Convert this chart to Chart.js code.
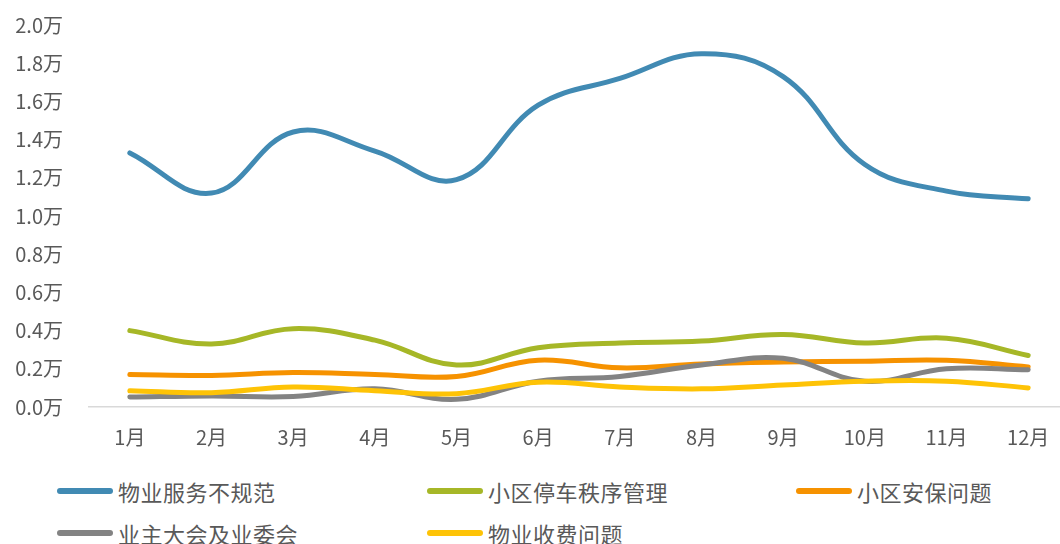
<!DOCTYPE html>
<html>
<head>
<meta charset="utf-8">
<script src="https://cdn.jsdelivr.net/npm/chart.js@4"></script>
<style>
  html, body { margin: 0; padding: 0; background: #fff; overflow: hidden; }
  body { width: 1060px; height: 544px; position: relative; }
  #wrap { position: absolute; left: 0; top: -13px; width: 1070px; height: 473px; }
  .legend { position: absolute; font-family: "Noto Sans CJK SC", sans-serif; font-size: 22px; color: #595959; }
  .item { position: absolute; display: flex; align-items: center; white-space: nowrap; letter-spacing: 0.5px; }
  .item span.sw { display: inline-block; width: 56px; height: 6px; border-radius: 3px; margin-right: 5px; }
</style>
</head>
<body>
<div id="wrap"><canvas id="lineChart"></canvas></div>
<div class="legend" id="legend"></div>
<script>
// 月份
const months = ['1月', '2月', '3月', '4月', '5月', '6月', '7月', '8月', '9月', '10月', '11月', '12月'];

// 各类投诉数量（万）
const wuyeFuwu   = [1.33, 1.12, 1.44, 1.34, 1.19, 1.58, 1.72, 1.85, 1.73, 1.27, 1.13, 1.09];
const tingche    = [0.40, 0.33, 0.41, 0.35, 0.22, 0.31, 0.335, 0.345, 0.38, 0.335, 0.36, 0.27];
const anbao      = [0.17, 0.165, 0.18, 0.17, 0.16, 0.245, 0.205, 0.225, 0.235, 0.24, 0.245, 0.21];
const yezhuDahui = [0.052, 0.058, 0.055, 0.095, 0.04, 0.135, 0.16, 0.22, 0.255, 0.135, 0.20, 0.195];
const shoufei    = [0.085, 0.075, 0.105, 0.085, 0.07, 0.13, 0.105, 0.095, 0.115, 0.135, 0.135, 0.10];

const yTicks = [0, 0.2, 0.4, 0.6, 0.8, 1.0, 1.2, 1.4, 1.6, 1.8, 2.0];

const seriesNames = ['物业服务不规范', '小区停车秩序管理', '小区安保问题', '业主大会及业委会', '物业收费问题'];
const seriesData = [wuyeFuwu, tingche, anbao, yezhuDahui, shoufei];
const colors = ['#418AB3', '#A6B727', '#F69200', '#838383', '#FEC306'];

const tickFont = { family: '"Noto Sans CJK SC", sans-serif', size: 20 };

const datasets = seriesNames.map((name, i) => ({
    label: name,
    data: seriesData[i],
    borderColor: colors[i],
    backgroundColor: colors[i],
    borderWidth: 5,
    borderCapStyle: 'round',
    borderJoinStyle: 'round',
    pointRadius: 0,
    tension: 0.4,
    fill: false,
    order: seriesNames.length - i
}));

new Chart(document.getElementById('lineChart'), {
    type: 'line',
    data: { labels: months, datasets: datasets },
    options: {
        responsive: true,
        maintainAspectRatio: false,
        animation: false,
        layout: { padding: { top: 11, right: 1, left: 0, bottom: 0 } },
        plugins: { legend: { display: false }, tooltip: { enabled: false } },
        scales: {
            x: {
                offset: true,
                grid: { display: false, drawTicks: false },
                border: { display: true, color: '#D9D9D9', width: 1.5 },
                ticks: { color: '#595959', font: tickFont, padding: 18, maxRotation: 0 },
                afterFit: scale => { scale.height = 53; }
            },
            y: {
                min: 0,
                max: 2.0,
                afterBuildTicks: scale => { scale.ticks = yTicks.map(v => ({ value: v })); },
                grid: { display: false, drawTicks: false },
                border: { display: false },
                ticks: {
                    color: '#595959',
                    font: tickFont,
                    padding: 26,
                    callback: v => v.toFixed(1) + '万'
                },
                afterFit: scale => { scale.width = 89; }
            }
        }
    }
});

// 图例：两行三列
const legendPos = [[57, 491], [427, 491], [796, 491], [57, 533], [427, 533]];
const legend = document.getElementById('legend');
seriesNames.forEach((name, i) => {
    const item = document.createElement('div');
    item.className = 'item';
    item.style.left = legendPos[i][0] + 'px';
    item.style.top = (legendPos[i][1] - 16) + 'px';
    item.style.height = '32px';
    const sw = document.createElement('span');
    sw.className = 'sw';
    sw.style.background = colors[i];
    item.appendChild(sw);
    item.appendChild(document.createTextNode(name));
    legend.appendChild(item);
});
</script>
</body>
</html>
